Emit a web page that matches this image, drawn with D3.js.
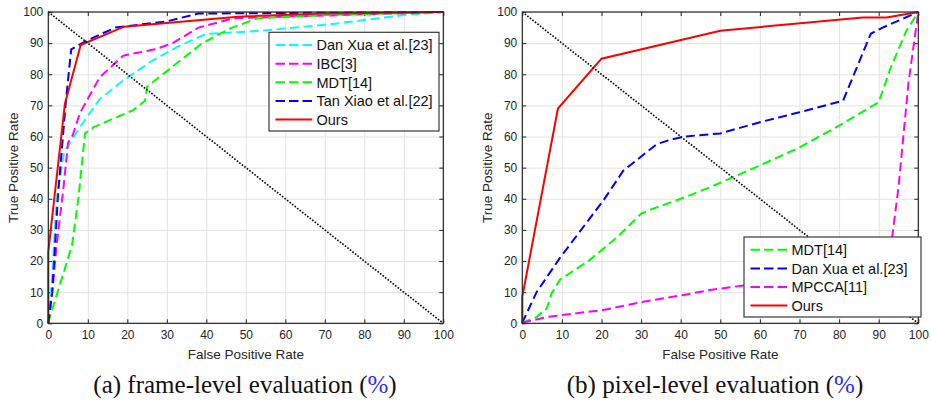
<!DOCTYPE html>
<html>
<head>
<meta charset="utf-8">
<script src="https://cdn.jsdelivr.net/npm/d3@7"></script>
<style>
  body { margin: 0; background: #fff; }
  svg { display: block; }
</style>
</head>
<body>
<svg id="chart" width="931" height="403"></svg>
<script>
// ---- data (FPR %, TPR %) ----
const fprTicks = [0, 10, 20, 30, 40, 50, 60, 70, 80, 90, 100];
const tprTicks = [0, 10, 20, 30, 40, 50, 60, 70, 80, 90, 100];
const diagonal = [[0, 100], [100, 0]];

// (a) frame-level
const frameNames = ["Dan Xua et al.[23]", "IBC[3]", "MDT[14]", "Tan Xiao et al.[22]", "Ours"];
const frameDanXua = [[0, 0], [1, 15], [2.1, 40], [4, 55], [5.5, 58], [8, 63], [13, 72], [19, 78], [26.5, 84.5], [33, 89], [40, 93], [48, 93.5], [56, 94.2], [71, 96], [90, 99], [100, 100]];
const frameIBC = [[0, 0], [1, 10], [2.1, 25], [3.8, 43], [5, 58], [6.2, 60.5], [8, 67.5], [13, 79], [19, 86], [27, 88], [31.5, 90], [38, 95], [47, 98], [100, 100]];
const frameMDT = [[0, 0], [0.4, 2], [6, 25], [7.6, 40], [9.3, 61], [11.5, 63], [21.5, 68.5], [24.5, 71.5], [25, 76], [30, 81], [39, 90], [46, 94.7], [53, 98], [70, 99], [100, 100]];
const frameTanXiao = [[0, 0], [1, 10], [2.5, 42], [4.5, 72], [5.8, 88], [10, 91], [17, 95], [30, 97], [38, 99.5], [100, 100]];
const frameOurs = [[0, 0], [0, 23], [4.2, 70.5], [8.2, 89.4], [19.2, 95.3], [48, 98.5], [70, 99.5], [100, 100]];

// (b) pixel-level
const pixelNames = ["MDT[14]", "Dan Xua et al.[23]", "MPCCA[11]", "Ours"];
const pixelMDT = [[0, 0], [0.7, 0.5], [3.6, 2], [6.2, 4.8], [7.4, 9.6], [9.5, 14], [17, 20.3], [24, 27.7], [30, 35.2], [33, 36.8], [40, 40], [47, 43.5], [60, 50.7], [70, 56.5], [80, 63.5], [90, 71], [93, 82], [97, 94], [100, 100]];
const pixelDanXua = [[0, 0], [0.3, 1], [3.6, 10], [9.5, 21], [20.5, 39.5], [25.5, 49], [34, 57.6], [37.5, 59], [41, 60], [50, 61], [60, 64.6], [70, 67.8], [81, 71.5], [88, 93], [91, 95], [100, 100]];
const pixelMPCCA = [[0, 0], [1, 0.5], [6.6, 2.1], [20.5, 4.3], [30.6, 6.9], [40.7, 9.1], [47.4, 10.7], [56.7, 12.3], [88, 17], [93.3, 26.7], [95, 43.7], [97.5, 77], [100, 100]];
const pixelOurs = [[0, 0], [0, 8.5], [9, 69], [20, 85], [50, 94], [86, 98.2], [92, 98.2], [100, 100]];

const font = "'Liberation Sans', Arial, Helvetica, sans-serif";
const ink = "#262626";
const dash = "9,4.5";

const panels = [
    {
        left: 48.3, right: 443.3,
        caption: "(a) frame-level evaluation (", captionX: 245,
        legend: { x: 269, y: 32.3, w: 170, h: 98.7 },
        series: [
            { name: frameNames[0], data: frameDanXua, color: "#00ffff", dash: dash },
            { name: frameNames[1], data: frameIBC, color: "#ff00ff", dash: dash },
            { name: frameNames[2], data: frameMDT, color: "#00ff00", dash: dash },
            { name: frameNames[3], data: frameTanXiao, color: "#0000ff", dash: dash },
            { name: frameNames[4], data: frameOurs, color: "#ff0000", dash: null }
        ]
    },
    {
        left: 522.3, right: 918.3,
        caption: "(b) pixel-level evaluation (", captionX: 715,
        legend: { x: 744, y: 237, w: 177, h: 80 },
        series: [
            { name: pixelNames[0], data: pixelMDT, color: "#00ff00", dash: dash },
            { name: pixelNames[1], data: pixelDanXua, color: "#0000ff", dash: dash },
            { name: pixelNames[2], data: pixelMPCCA, color: "#ff00ff", dash: dash },
            { name: pixelNames[3], data: pixelOurs, color: "#ff0000", dash: null }
        ]
    }
];

const svg = d3.select("#chart");
const plotTop = 12, plotBottom = 323.3;

panels.forEach(p => {
    const x = d3.scaleLinear().domain([0, 100]).range([p.left, p.right]);
    const y = d3.scaleLinear().domain([0, 100]).range([plotBottom, plotTop]);
    const w = p.right - p.left, h = plotBottom - plotTop;
    const g = svg.append("g");

    // grid
    g.append("g")
        .attr("transform", `translate(0,${plotBottom})`)
        .call(d3.axisBottom(x).tickValues(fprTicks).tickSize(-h).tickFormat(""))
        .call(a => a.select(".domain").remove())
        .selectAll("line").attr("stroke", "#e3e3e3");
    g.append("g")
        .attr("transform", `translate(${p.left},0)`)
        .call(d3.axisLeft(y).tickValues(tprTicks).tickSize(-w).tickFormat(""))
        .call(a => a.select(".domain").remove())
        .selectAll("line").attr("stroke", "#e3e3e3");

    // axes with inward ticks
    const styleAxis = a => {
        a.select(".domain").remove();
        a.selectAll("line").attr("stroke", ink);
        a.selectAll("text").attr("fill", ink).style("font-family", font).style("font-size", "12px");
    };
    g.append("g").attr("transform", `translate(0,${plotBottom})`)
        .call(d3.axisBottom(x).tickValues(fprTicks).tickSize(-4).tickPadding(7)).call(styleAxis);
    g.append("g").attr("transform", `translate(0,${plotTop})`)
        .call(d3.axisTop(x).tickValues(fprTicks).tickSize(-4).tickFormat("")).call(styleAxis);
    g.append("g").attr("transform", `translate(${p.left},0)`)
        .call(d3.axisLeft(y).tickValues(tprTicks).tickSize(-4).tickPadding(5)).call(styleAxis);
    g.append("g").attr("transform", `translate(${p.right},0)`)
        .call(d3.axisRight(y).tickValues(tprTicks).tickSize(-4).tickFormat("")).call(styleAxis);

    // series
    const line = d3.line().x(d => x(d[0])).y(d => y(d[1]));
    p.series.forEach(s => {
        g.append("path")
            .datum(s.data)
            .attr("d", line)
            .attr("fill", "none")
            .attr("stroke", s.color)
            .attr("stroke-width", 2)
            .attr("stroke-dasharray", s.dash);
    });

    // chance diagonal
    g.append("path")
        .datum(diagonal)
        .attr("d", line)
        .attr("fill", "none")
        .attr("stroke", "#000")
        .attr("stroke-width", 1.6)
        .attr("stroke-dasharray", "1.6,1.6");

    // box
    g.append("rect")
        .attr("x", p.left).attr("y", plotTop)
        .attr("width", w).attr("height", h)
        .attr("fill", "none")
        .attr("stroke", ink)
        .attr("stroke-width", 1.2);

    // axis labels
    g.append("text")
        .attr("x", (p.left + p.right) / 2)
        .attr("y", 359.3)
        .attr("text-anchor", "middle")
        .attr("fill", ink)
        .style("font-family", font)
        .style("font-size", "13.5px")
        .text("False Positive Rate");
    g.append("text")
        .attr("transform", `translate(${p.left - 30},${(plotTop + plotBottom) / 2}) rotate(-90)`)
        .attr("text-anchor", "middle")
        .attr("fill", ink)
        .style("font-family", font)
        .style("font-size", "13.5px")
        .text("True Positive Rate");

    // legend
    const L = p.legend;
    const lg = g.append("g");
    lg.append("rect")
        .attr("x", L.x).attr("y", L.y)
        .attr("width", L.w).attr("height", L.h)
        .attr("fill", "#fff")
        .attr("stroke", "#3a3a3a")
        .attr("stroke-width", 1.2);
    const rowH = 18.6;
    const row0 = L.y + 12.8;
    p.series.forEach((s, i) => {
        const cy = row0 + i * rowH;
        lg.append("line")
            .attr("x1", L.x + 6.5).attr("x2", L.x + 43.3)
            .attr("y1", cy).attr("y2", cy)
            .attr("stroke", s.color)
            .attr("stroke-width", 2)
            .attr("stroke-dasharray", s.dash ? "9.5,4" : null);
        lg.append("text")
            .attr("x", L.x + 47.5)
            .attr("y", cy)
            .attr("dy", "0.36em")
            .attr("fill", "#111")
            .style("font-family", font)
            .style("font-size", "14.5px")
            .text(s.name);
    });

    // caption
    const cap = g.append("text")
        .attr("x", p.captionX)
        .attr("y", 393)
        .attr("text-anchor", "middle")
        .attr("fill", "#111")
        .style("font-family", "'Liberation Serif', 'Times New Roman', serif")
        .style("font-size", "25px");
    cap.append("tspan").text(p.caption);
    cap.append("tspan").attr("fill", "#2a2aff").text("%");
    cap.append("tspan").text(")");
});
</script>
</body>
</html>
